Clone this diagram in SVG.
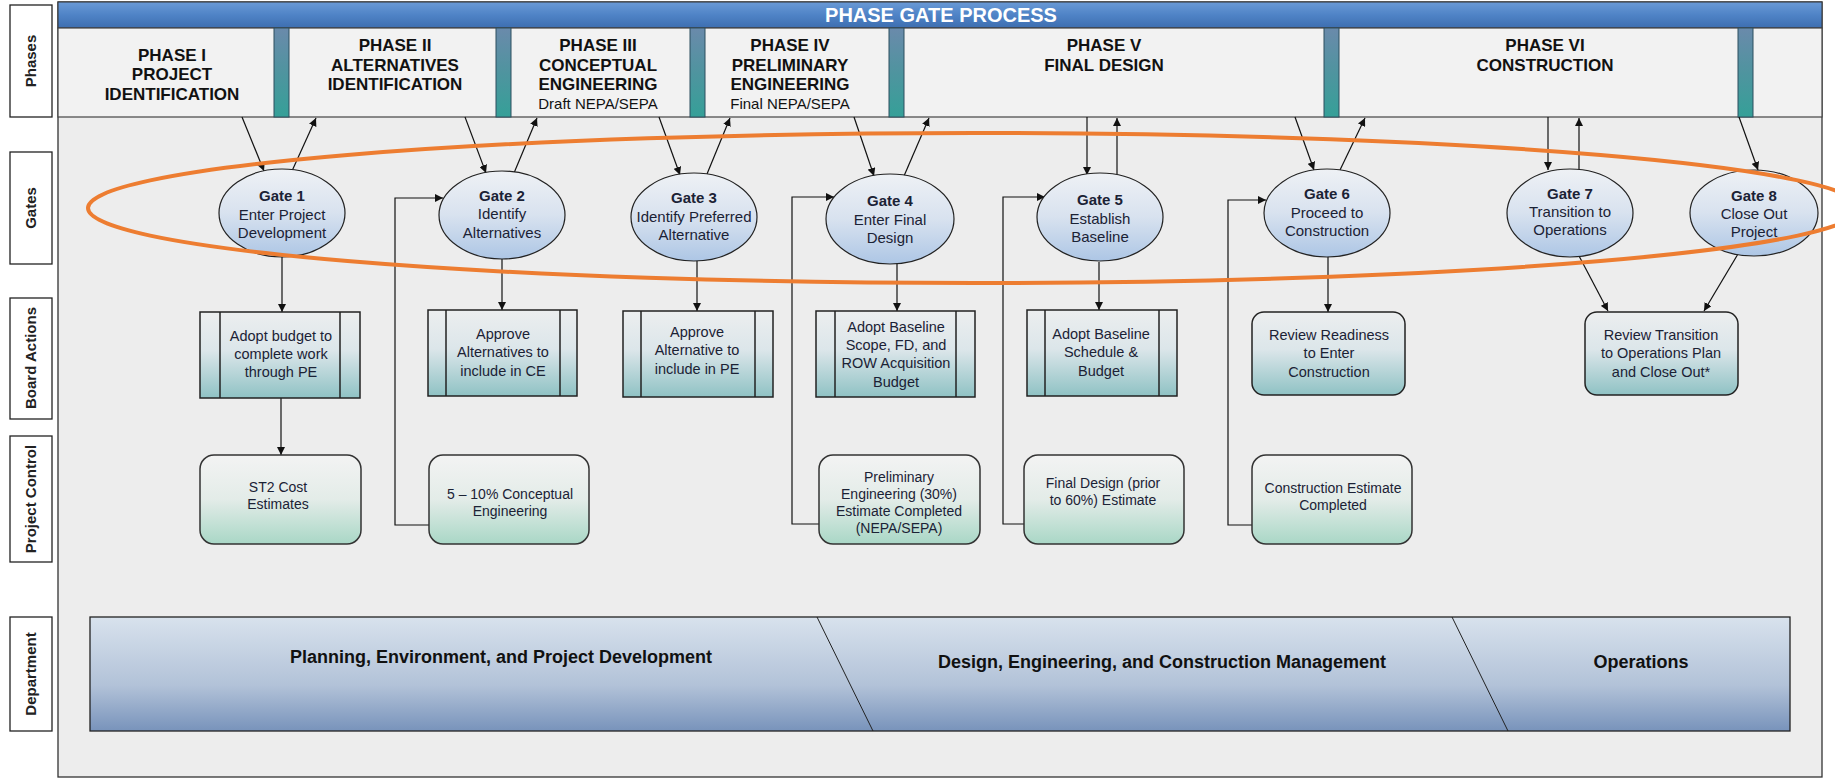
<svg xmlns="http://www.w3.org/2000/svg" width="1835" height="779" viewBox="0 0 1835 779">
<defs>
<linearGradient id="gBar" x1="0" y1="0" x2="0" y2="1"><stop offset="0" stop-color="#6a9ad6"/><stop offset="0.5" stop-color="#4f83c6"/><stop offset="1" stop-color="#3d6eb0"/></linearGradient>
<linearGradient id="gSep" x1="0" y1="0" x2="0" y2="1"><stop offset="0" stop-color="#6a8aab"/><stop offset="0.5" stop-color="#4f949f"/><stop offset="1" stop-color="#35a098"/></linearGradient>
<linearGradient id="gGate" x1="0" y1="0" x2="0" y2="1"><stop offset="0" stop-color="#eef1f5"/><stop offset="0.5" stop-color="#d8e2ef"/><stop offset="1" stop-color="#adc6e5"/></linearGradient>
<linearGradient id="gBA" x1="0" y1="0" x2="0" y2="1"><stop offset="0" stop-color="#eceeef"/><stop offset="0.45" stop-color="#dce6ea"/><stop offset="1" stop-color="#8fc2c4"/></linearGradient>
<linearGradient id="gPC" x1="0" y1="0" x2="0" y2="1"><stop offset="0" stop-color="#f3f3f3"/><stop offset="0.5" stop-color="#e3ece8"/><stop offset="1" stop-color="#a9d7c6"/></linearGradient>
<linearGradient id="gDept" x1="0" y1="0" x2="0" y2="1"><stop offset="0" stop-color="#d8e2ed"/><stop offset="0.6" stop-color="#b2c2d8"/><stop offset="1" stop-color="#7893bb"/></linearGradient>
<marker id="arr" viewBox="0 0 10 10" refX="10" refY="5" markerWidth="8" markerHeight="8" markerUnits="userSpaceOnUse" orient="auto"><path d="M0,0 L10,5 L0,10 z" fill="#111"/></marker>
<style>
.lbl{fill:#fff;stroke:#222;stroke-width:1.3}
.lblt{font-family:"Liberation Sans",Arial,sans-serif;font-weight:bold;font-size:15px;fill:#222;text-anchor:middle}
.ph{font-family:"Liberation Sans",Arial,sans-serif;font-weight:bold;font-size:17px;fill:#111;text-anchor:middle}
.phs{font-family:"Liberation Sans",Arial,sans-serif;font-size:15px;fill:#111;text-anchor:middle}
.sep{fill:url(#gSep);stroke:#2d4f5f;stroke-width:1}
.gate{fill:url(#gGate);stroke:#222;stroke-width:1.2}
.gt{font-family:"Liberation Sans",Arial,sans-serif;font-size:15px;fill:#1b2235;text-anchor:middle}
.gb{font-weight:bold}
.ba{fill:url(#gBA);stroke:#222;stroke-width:1.5}
.bal{stroke:#222;stroke-width:1.5;fill:none}
.bt{font-family:"Liberation Sans",Arial,sans-serif;font-size:14.5px;fill:#1b2235;text-anchor:middle}
.pc{fill:url(#gPC);stroke:#333;stroke-width:1.5}
.pt{font-family:"Liberation Sans",Arial,sans-serif;font-size:14px;fill:#1b2235;text-anchor:middle}
.dt{font-family:"Liberation Sans",Arial,sans-serif;font-weight:bold;font-size:18px;fill:#111;text-anchor:middle}
.cn{stroke:#111;stroke-width:1.2;fill:none;marker-end:url(#arr)}
</style>
</defs>
<rect x="0" y="0" width="1835" height="779" fill="#ffffff"/>
<rect id="panel" x="58" y="2" width="1764" height="775" fill="#ededed" stroke="#333" stroke-width="1.3"/>
<g id="titlebar">
<rect x="58" y="2" width="1764" height="26" fill="url(#gBar)" stroke="#333" stroke-width="1"/>
<text x="941" y="22" font-family="Liberation Sans, Arial, sans-serif" font-weight="bold" font-size="20" fill="#fff" text-anchor="middle">PHASE GATE PROCESS</text>
</g>
<g id="phaserow">
<rect x="58" y="28" width="1764" height="89" fill="#f2f2f2" stroke="#444" stroke-width="1.2"/>
<rect class="sep" x="274" y="28" width="15" height="89"/>
<rect class="sep" x="496" y="28" width="15" height="89"/>
<rect class="sep" x="690" y="28" width="15" height="89"/>
<rect class="sep" x="889" y="28" width="15" height="89"/>
<rect class="sep" x="1324" y="28" width="15" height="89"/>
<rect class="sep" x="1738" y="28" width="15" height="89"/>
</g>
<g id="phase1"><text class="ph" x="172" y="61">PHASE I</text><text class="ph" x="172" y="80">PROJECT</text><text class="ph" x="172" y="100">IDENTIFICATION</text></g>
<g id="phase2"><text class="ph" x="395" y="51">PHASE II</text><text class="ph" x="395" y="71">ALTERNATIVES</text><text class="ph" x="395" y="90">IDENTIFICATION</text></g>
<g id="phase3"><text class="ph" x="598" y="51">PHASE III</text><text class="ph" x="598" y="71">CONCEPTUAL</text><text class="ph" x="598" y="90">ENGINEERING</text><text class="phs" x="598" y="109">Draft NEPA/SEPA</text></g>
<g id="phase4"><text class="ph" x="790" y="51">PHASE IV</text><text class="ph" x="790" y="71">PRELIMINARY</text><text class="ph" x="790" y="90">ENGINEERING</text><text class="phs" x="790" y="109">Final NEPA/SEPA</text></g>
<g id="phase5"><text class="ph" x="1104" y="51">PHASE V</text><text class="ph" x="1104" y="71">FINAL DESIGN</text></g>
<g id="phase6"><text class="ph" x="1545" y="51">PHASE VI</text><text class="ph" x="1545" y="71">CONSTRUCTION</text></g>
<g id="labels">
<rect class="lbl" x="10" y="5" width="42" height="112"/><text class="lblt" transform="translate(36,61) rotate(-90)">Phases</text>
<rect class="lbl" x="10" y="152" width="42" height="112"/><text class="lblt" transform="translate(36,208) rotate(-90)">Gates</text>
<rect class="lbl" x="10" y="298" width="42" height="121"/><text class="lblt" transform="translate(36,358) rotate(-90)">Board Actions</text>
<rect class="lbl" x="10" y="436" width="42" height="126"/><text class="lblt" transform="translate(36,499) rotate(-90)">Project Control</text>
<rect class="lbl" x="10" y="617" width="42" height="114"/><text class="lblt" transform="translate(36,674) rotate(-90)">Department</text>
</g>
<g id="connectors">
<line class="cn" x1="242" y1="117" x2="264" y2="171"/><line class="cn" x1="292" y1="171" x2="316" y2="118"/>
<line class="cn" x1="465" y1="117" x2="486" y2="173"/><line class="cn" x1="514" y1="173" x2="537" y2="118"/>
<line class="cn" x1="659" y1="117" x2="680" y2="175"/><line class="cn" x1="707" y1="174" x2="730" y2="118"/>
<line class="cn" x1="854" y1="117" x2="874" y2="176"/><line class="cn" x1="904" y1="176" x2="929" y2="118"/>
<line class="cn" x1="1087" y1="117" x2="1087" y2="175"/><line class="cn" x1="1117" y1="174" x2="1117" y2="118"/>
<line class="cn" x1="1295" y1="117" x2="1314" y2="170"/><line class="cn" x1="1340" y1="170" x2="1365" y2="118"/>
<line class="cn" x1="1548" y1="117" x2="1548" y2="170"/><line class="cn" x1="1579" y1="169" x2="1579" y2="118"/>
<line class="cn" x1="1739" y1="117" x2="1758" y2="170"/>
<line class="cn" x1="282" y1="257" x2="282" y2="312"/>
<line class="cn" x1="502" y1="258" x2="502" y2="310"/>
<line class="cn" x1="697" y1="260" x2="697" y2="311"/>
<line class="cn" x1="897" y1="263" x2="897" y2="311"/>
<line class="cn" x1="1099" y1="262" x2="1099" y2="310"/>
<line class="cn" x1="1328" y1="256" x2="1328" y2="312"/>
<line class="cn" x1="1578" y1="254" x2="1608" y2="311"/>
<line class="cn" x1="1738" y1="254" x2="1704" y2="311"/>
<line class="cn" x1="281" y1="398" x2="281" y2="455"/>
<polyline class="cn" points="429,525 395,525 395,198 443,198"/>
<polyline class="cn" points="819,524 792,524 792,197 834,197"/>
<polyline class="cn" points="1024,524 1003,524 1003,197 1045,197"/>
<polyline class="cn" points="1252,525 1228,525 1228,200 1266,200"/>
</g>
<g id="gate1"><ellipse class="gate" cx="282" cy="213" rx="63" ry="44"/><text class="gt gb" x="282" y="201">Gate 1</text><text class="gt" x="282" y="220">Enter Project</text><text class="gt" x="282" y="238">Development</text></g>
<g id="gate2"><ellipse class="gate" cx="502" cy="215" rx="63" ry="44"/><text class="gt gb" x="502" y="201">Gate 2</text><text class="gt" x="502" y="219">Identify</text><text class="gt" x="502" y="238">Alternatives</text></g>
<g id="gate3"><ellipse class="gate" cx="694" cy="217" rx="63" ry="44"/><text class="gt gb" x="694" y="203">Gate 3</text><text class="gt" x="694" y="222">Identify Preferred</text><text class="gt" x="694" y="240">Alternative</text></g>
<g id="gate4"><ellipse class="gate" cx="890" cy="219" rx="64" ry="45"/><text class="gt gb" x="890" y="206">Gate 4</text><text class="gt" x="890" y="225">Enter Final</text><text class="gt" x="890" y="243">Design</text></g>
<g id="gate5"><ellipse class="gate" cx="1100" cy="217" rx="63" ry="44"/><text class="gt gb" x="1100" y="205">Gate 5</text><text class="gt" x="1100" y="224">Establish</text><text class="gt" x="1100" y="242">Baseline</text></g>
<g id="gate6"><ellipse class="gate" cx="1327" cy="213" rx="63" ry="44"/><text class="gt gb" x="1327" y="199">Gate 6</text><text class="gt" x="1327" y="218">Proceed to</text><text class="gt" x="1327" y="236">Construction</text></g>
<g id="gate7"><ellipse class="gate" cx="1570" cy="213" rx="63" ry="44"/><text class="gt gb" x="1570" y="199">Gate 7</text><text class="gt" x="1570" y="217">Transition to</text><text class="gt" x="1570" y="235">Operations</text></g>
<g id="gate8"><ellipse class="gate" cx="1754" cy="213" rx="64" ry="43"/><text class="gt gb" x="1754" y="201">Gate 8</text><text class="gt" x="1754" y="219">Close Out</text><text class="gt" x="1754" y="237">Project</text></g>
<g id="ba1"><rect class="ba" x="200" y="312" width="160" height="86"/><line class="bal" x1="220" y1="312" x2="220" y2="398"/><line class="bal" x1="340" y1="312" x2="340" y2="398"/><text class="bt" x="281" y="341">Adopt budget to</text><text class="bt" x="281" y="359">complete work</text><text class="bt" x="281" y="377">through PE</text></g>
<g id="ba2"><rect class="ba" x="428" y="310" width="149" height="86"/><line class="bal" x1="446" y1="310" x2="446" y2="396"/><line class="bal" x1="560" y1="310" x2="560" y2="396"/><text class="bt" x="503" y="339">Approve</text><text class="bt" x="503" y="357">Alternatives to</text><text class="bt" x="503" y="376">include in CE</text></g>
<g id="ba3"><rect class="ba" x="623" y="311" width="150" height="86"/><line class="bal" x1="641" y1="311" x2="641" y2="397"/><line class="bal" x1="755" y1="311" x2="755" y2="397"/><text class="bt" x="697" y="337">Approve</text><text class="bt" x="697" y="355">Alternative to</text><text class="bt" x="697" y="374">include in PE</text></g>
<g id="ba4"><rect class="ba" x="816" y="311" width="159" height="86"/><line class="bal" x1="835" y1="311" x2="835" y2="397"/><line class="bal" x1="956" y1="311" x2="956" y2="397"/><text class="bt" x="896" y="332">Adopt Baseline</text><text class="bt" x="896" y="350">Scope, FD, and</text><text class="bt" x="896" y="368">ROW Acquisition</text><text class="bt" x="896" y="387">Budget</text></g>
<g id="ba5"><rect class="ba" x="1027" y="310" width="150" height="86"/><line class="bal" x1="1045" y1="310" x2="1045" y2="396"/><line class="bal" x1="1159" y1="310" x2="1159" y2="396"/><text class="bt" x="1101" y="339">Adopt Baseline</text><text class="bt" x="1101" y="357">Schedule &amp;</text><text class="bt" x="1101" y="376">Budget</text></g>
<g id="ba6"><rect class="ba" x="1252" y="312" width="153" height="83" rx="12"/><text class="bt" x="1329" y="340">Review Readiness</text><text class="bt" x="1329" y="358">to Enter</text><text class="bt" x="1329" y="377">Construction</text></g>
<g id="ba7"><rect class="ba" x="1585" y="312" width="153" height="83" rx="12"/><text class="bt" x="1661" y="340">Review Transition</text><text class="bt" x="1661" y="358">to Operations Plan</text><text class="bt" x="1661" y="377">and Close Out*</text></g>
<g id="pc1"><rect class="pc" x="200" y="455" width="161" height="89" rx="14"/><text class="pt" x="278" y="492">ST2 Cost</text><text class="pt" x="278" y="509">Estimates</text></g>
<g id="pc2"><rect class="pc" x="429" y="455" width="160" height="89" rx="14"/><text class="pt" x="510" y="499">5 – 10% Conceptual</text><text class="pt" x="510" y="516">Engineering</text></g>
<g id="pc4"><rect class="pc" x="819" y="455" width="161" height="89" rx="14"/><text class="pt" x="899" y="482">Preliminary</text><text class="pt" x="899" y="499">Engineering (30%)</text><text class="pt" x="899" y="516">Estimate Completed</text><text class="pt" x="899" y="533">(NEPA/SEPA)</text></g>
<g id="pc5"><rect class="pc" x="1024" y="455" width="160" height="89" rx="14"/><text class="pt" x="1103" y="488">Final Design (prior</text><text class="pt" x="1103" y="505">to 60%) Estimate</text></g>
<g id="pc6"><rect class="pc" x="1252" y="455" width="160" height="89" rx="14"/><text class="pt" x="1333" y="493">Construction Estimate</text><text class="pt" x="1333" y="510">Completed</text></g>
<g id="department">
<rect x="90" y="617" width="1700" height="114" fill="url(#gDept)" stroke="#222" stroke-width="1.3"/>
<line x1="817" y1="617" x2="873" y2="731" stroke="#222" stroke-width="1"/>
<line x1="1452" y1="617" x2="1508" y2="731" stroke="#222" stroke-width="1"/>
<text class="dt" x="501" y="663">Planning, Environment, and Project Development</text>
<text class="dt" x="1162" y="668">Design, Engineering, and Construction Management</text>
<text class="dt" x="1641" y="668">Operations</text>
</g>
<ellipse id="highlight" cx="974" cy="208" rx="886" ry="75" fill="none" stroke="#ED7D31" stroke-width="4"/>
</svg>
